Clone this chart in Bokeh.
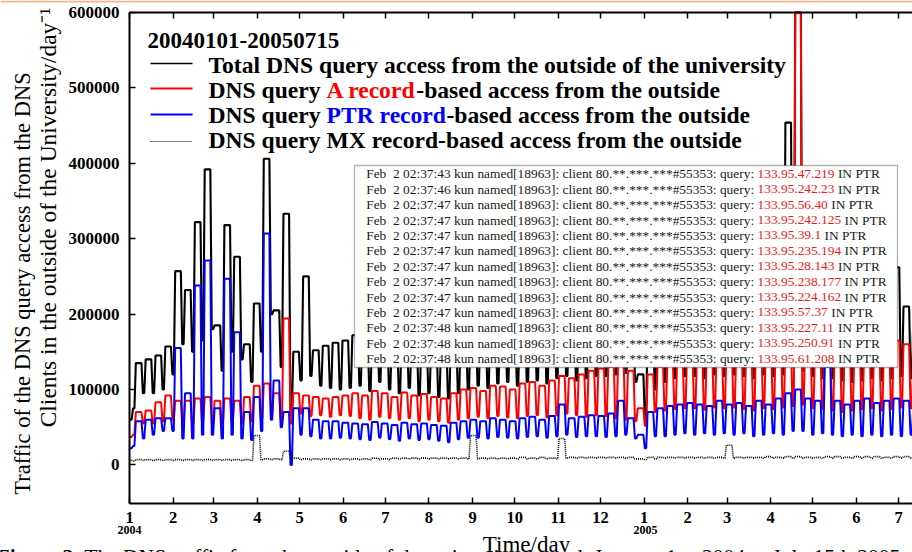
from datetime import date
from bokeh.plotting import figure
from bokeh.models import Range1d, FixedTicker, LinearAxis, Label, BoxAnnotation, Arrow
from bokeh.embed import file_html
from bokeh.resources import INLINE

# ---------------- data (weekly weekday-high / weekend-low, thousands of queries/day) -------------
total_hi_k = [60, 135, 140, 145, 157, 257, 232, 322, 392, 185,
              318, 276, 160, 214, 406, 205, 333, 150, 250, 152,
              158, 162, 165, 172, 168, 175, 170, 165, 170, 160,
              162, 158, 155, 165, 170, 175, 172, 178, 180, 176,
              182, 185, 180, 188, 200, 190, 192, 195, 200, 205,
              215, 200, 120, 200, 215, 220, 225, 230, 228, 232,
              235, 240, 238, 235, 245, 240, 250, 454, 600, 245,
              240, 280, 240, 235, 240, 245, 238, 242, 262, 210,
              200]
total_lo_k = [75, 95, 95, 100, 120, 160, 150, 165, 180, 125,
              150, 140, 110, 150, 200, 130, 70, 112, 118, 105,
              102, 100, 102, 105, 98, 110, 100, 95, 102, 92,
              95, 90, 88, 95, 100, 105, 102, 108, 110, 105,
              110, 112, 108, 115, 118, 112, 115, 118, 118, 120,
              122, 110, 60, 100, 110, 115, 118, 118, 115, 120,
              118, 120, 118, 115, 120, 118, 120, 130, 125, 118,
              115, 115, 112, 110, 112, 115, 112, 115, 118, 115,
              110]
a_hi_k = [37, 70, 72, 83, 92, 85, 85, 88, 90, 85,
          88, 85, 90, 105, 108, 95, 194, 95, 92, 90,
          88, 90, 92, 95, 92, 98, 95, 90, 96, 92,
          94, 90, 88, 95, 100, 102, 98, 105, 104, 100,
          108, 110, 105, 112, 118, 115, 120, 125, 128, 130,
          135, 125, 75, 120, 130, 135, 140, 145, 140, 150,
          148, 152, 150, 145, 155, 150, 158, 165, 600, 155,
          150, 158, 150, 148, 152, 155, 150, 155, 165, 160,
          150]
a_lo_k = [40, 55, 55, 58, 60, 58, 55, 58, 55, 55,
          58, 55, 58, 62, 65, 60, 55, 68, 65, 66,
          64, 66, 65, 62, 60, 64, 62, 60, 62, 58,
          60, 58, 56, 60, 62, 64, 62, 65, 63, 62,
          65, 66, 63, 66, 68, 66, 64, 66, 65, 62,
          60, 58, 52, 70, 72, 74, 75, 75, 73, 76,
          75, 76, 74, 72, 75, 74, 76, 78, 80, 75,
          74, 72, 70, 72, 74, 75, 72, 74, 76, 75,
          72]
ptr_hi_k = [22, 58, 60, 62, 62, 155, 95, 238, 271, 75,
            247, 176, 70, 90, 307, 112, 70, 75, 75, 60,
            58, 58, 56, 55, 54, 57, 55, 53, 56, 54,
            55, 53, 52, 56, 58, 60, 58, 62, 60, 58,
            62, 64, 60, 65, 80, 62, 64, 66, 65, 68,
            85, 62, 40, 70, 75, 78, 80, 82, 80, 78,
            85, 80, 82, 78, 85, 80, 88, 95, 100, 88,
            85, 130, 85, 80, 85, 88, 82, 85, 88, 85,
            80]
ptr_lo_k = [25, 35, 40, 45, 45, 35, 35, 40, 40, 35,
            40, 35, 33, 45, 60, 50, 0, 40, 38, 35,
            35, 36, 35, 34, 33, 36, 34, 32, 35, 33,
            34, 32, 30, 34, 36, 36, 35, 37, 36, 35,
            37, 38, 36, 38, 40, 37, 38, 38, 37, 38,
            40, 35, 22, 38, 38, 40, 42, 40, 42, 40,
            42, 40, 42, 38, 40, 42, 40, 45, 45, 40,
            42, 40, 38, 40, 38, 40, 38, 40, 38, 40,
            38]
mx_hi_k = [6, 7, 7, 7, 7, 7, 7, 7, 7, 7,
           7, 7, 7, 39, 8, 8, 18, 9, 8, 8,
           8, 8, 8, 8, 8, 9, 8, 9, 9, 9,
           9, 9, 9, 9, 9, 39, 9, 9, 9, 9,
           10, 9, 10, 9, 35, 10, 10, 10, 10, 10,
           10, 10, 8, 10, 10, 10, 10, 10, 10, 10,
           10, 26, 10, 10, 10, 11, 10, 11, 11, 10,
           10, 11, 11, 10, 11, 11, 11, 10, 11, 11,
           10]
mx_lo_k = [5, 6, 6, 6, 6, 6, 6, 6, 6, 6,
           6, 6, 6, 7, 7, 7, 8, 7, 7, 7,
           7, 7, 7, 7, 7, 7, 7, 8, 8, 8,
           8, 8, 8, 8, 8, 8, 8, 8, 8, 8,
           8, 8, 8, 8, 9, 9, 9, 9, 9, 9,
           9, 8, 7, 8, 9, 9, 9, 9, 9, 9,
           9, 9, 9, 9, 9, 9, 9, 9, 9, 9,
           9, 9, 9, 9, 9, 9, 9, 9, 9, 9,
           9]

month_starts = [(2004, m) for m in range(1, 13)] + [(2005, m) for m in range(1, 8)]
month_labels = ["1", "2", "3", "4", "5", "6", "7", "8", "9", "10", "11", "12",
                "1", "2", "3", "4", "5", "6", "7"]
y_ticks = [0, 100000, 200000, 300000, 400000, 500000, 600000]
y_tick_labels = ["0", "100000", "200000", "300000", "400000", "500000", "600000"]

legend_title = "20040101-20050715"
log_times = ["02:37:43", "02:37:46", "02:37:47", "02:37:47", "02:37:47", "02:37:47",
             "02:37:47", "02:37:47", "02:37:47", "02:37:47", "02:37:48", "02:37:48",
             "02:37:48"]
log_ips = ["133.95.47.219", "133.95.242.23", "133.95.56.40", "133.95.242.125",
           "133.95.39.1", "133.95.235.194", "133.95.28.143", "133.95.238.177",
           "133.95.224.162", "133.95.57.37", "133.95.227.11", "133.95.250.91",
           "133.95.61.208"]

# ---------------- layout geometry (canvas pixels) ----------------
W, H = 912, 552
AX_L, AX_T, AX_B = 129, 12, 503          # axis frame left / top / bottom
PX_PER_DAY = 1.406
Y_TOP, Y_BOT = 600000, -51200            # values at the top / bottom axis lines
START = date(2004, 1, 1)
month_days = [(date(y, m, 1) - START).days for (y, m) in month_starts]

units_per_px = (Y_TOP - Y_BOT) / (AX_B - AX_T)
x_lo = -AX_L / PX_PER_DAY
x_hi = (W - AX_L) / PX_PER_DAY
y_hi = Y_TOP + AX_T * units_per_px
y_lo = Y_BOT - (H - AX_B) * units_per_px


def weekly_series(hi, lo):
    xs, ys = [], []
    for w, (h, l) in enumerate(zip(hi, lo)):
        xs += [7 * w - 2.5, 7 * w + 1.5, 7 * w + 2.5, 7 * w + 3.5]
        ys += [h * 1000, h * 1000, l * 1000, l * 1000]
    xs = [max(x, 0) for x in xs]
    return xs, ys


FONT = "Liberation Serif"


def fx(px):
    return px


def fy(py):
    return H - py


def lab(x, y, text, size, color="black", style="normal", align="left",
        baseline="middle", angle=0):
    p.add_layout(Label(x=fx(x), y=fy(y), x_units="screen", y_units="screen",
                       text=text, text_font=FONT, text_font_size=size,
                       text_font_style=style, text_color=color,
                       text_align=align, text_baseline=baseline,
                       angle=angle, angle_units="deg"))


# ---------------- figure ----------------
p = figure(width=W, height=H, output_backend="svg", toolbar_location=None,
           x_range=Range1d(x_lo, x_hi), y_range=Range1d(y_lo, y_hi),
           min_border=0, x_axis_location=None, y_axis_location=None)
p.outline_line_color = None
p.grid.visible = False
p.background_fill_color = "white"
p.border_fill_color = "white"


def style_axis(ax):
    ax.axis_line_width = 2
    ax.axis_line_color = "black"
    ax.major_tick_in = 6
    ax.major_tick_out = 0
    ax.major_tick_line_width = 1.5
    ax.minor_tick_line_color = None
    ax.major_label_text_font = FONT
    ax.major_label_text_font_style = "bold"
    ax.major_label_text_color = "black"


yaxis = LinearAxis(ticker=FixedTicker(ticks=y_ticks), fixed_location=0,
                   bounds=(Y_BOT, Y_TOP),
                   major_label_overrides=dict(zip(y_ticks, y_tick_labels)))
style_axis(yaxis)
yaxis.major_label_text_font_size = "17px"
yaxis.major_label_standoff = 10
p.add_layout(yaxis, "left")

xaxis = LinearAxis(ticker=FixedTicker(ticks=month_days), fixed_location=Y_BOT,
                   bounds=(0, x_hi),
                   major_label_overrides=dict(zip(month_days, month_labels)))
style_axis(xaxis)
xaxis.major_label_text_font_size = "16.5px"
xaxis.major_label_standoff = 8
p.add_layout(xaxis, "below")

topaxis = LinearAxis(ticker=FixedTicker(ticks=month_days), fixed_location=Y_TOP,
                     bounds=(0, x_hi))
style_axis(topaxis)
topaxis.major_label_text_color = None
topaxis.major_label_text_font_size = "1px"
topaxis.major_label_standoff = 0
p.add_layout(topaxis, "above")

# ---------------- series ----------------
tx, ty = weekly_series(total_hi_k, total_lo_k)
ax_, ay = weekly_series(a_hi_k, a_lo_k)
px_, py_ = weekly_series(ptr_hi_k, ptr_lo_k)
mx, my = weekly_series(mx_hi_k, mx_lo_k)
p.line(tx, ty, line_color="black", line_width=2.1)
p.line(ax_, ay, line_color="#ff0000", line_width=2)
p.line(px_, py_, line_color="#0000ff", line_width=2)
p.line(mx, my, line_color="black", line_width=1.6, line_dash="1 1")

# ---------------- scan page edge at the top ----------------
p.add_layout(BoxAnnotation(left=0, right=W, top=H, bottom=H - 2,
                           left_units="screen", right_units="screen",
                           top_units="screen", bottom_units="screen",
                           fill_color="#f6b48a", fill_alpha=1.0, line_color=None))

# ---------------- legend ----------------
LFS = 23.6
lab(147, 40, legend_title, "23px", style="bold")
sample_rows = [(63, "black", "solid", 1.5), (88, "#ff0000", "solid", 2),
               (114, "#0000ff", "solid", 2), (141, "black", "1 1", 1.2)]
for yy, col, dash, lw in sample_rows:
    p.add_layout(Arrow(end=None, x_start=fx(150), y_start=fy(yy), x_end=fx(192),
                       y_end=fy(yy), start_units="screen", end_units="screen",
                       line_color=col, line_width=lw, line_dash=dash))
lx = 208
xa = lx + 5.0 * LFS
LSZ = "23.6px"
lab(lx, 64, "Total DNS query access from the outside of the university", LSZ, style="bold")
lab(lx, 89, "DNS query", LSZ, style="bold")
lab(xa, 89, "A record", LSZ, color="#ff0000", style="bold")
lab(xa + 3.804 * LFS, 89, "-based access from the outside", LSZ, style="bold")
lab(lx, 114, "DNS query", LSZ, style="bold")
lab(xa, 114, "PTR record", LSZ, color="#0000ff", style="bold")
lab(xa + 5.082 * LFS, 114, "-based access from the outside", LSZ, style="bold")
lab(lx, 139, "DNS query MX record-based access from the outside", LSZ, style="bold")

# ---------------- inset log box ----------------
p.add_layout(BoxAnnotation(left=fx(354), right=fx(897), top=fy(165), bottom=fy(367),
                           left_units="screen", right_units="screen",
                           top_units="screen", bottom_units="screen",
                           fill_color="white", fill_alpha=1.0,
                           line_color="black", line_width=1.3))
TFS = 13.4
for i, (t, ip) in enumerate(zip(log_times, log_ips)):
    yc = 173.3 + 15.4 * i
    lab(753.6, yc, "Feb\u00a0\u00a02 " + t + " kun named[18963]: client 80.**.***.***#55353: query:",
        "13.4px", color="#1a1a1a", align="right")
    lab(757, yc, ip, "13.4px", color="#f01818")
    ipw = (sum(c.isdigit() for c in ip) * 0.5 + ip.count(".") * 0.25 + 0.25) * TFS
    lab(757 + ipw, yc, "IN PTR", "13.4px", color="#1a1a1a")

# ---------------- axis titles & captions ----------------
lab(22, 283, "Traffic of the DNS query access from the DNS", "22.5px", angle=90, align="center")
lab(47, 217, "Clients in the outside of the University/day\u207b\u00b9", "23.5px", angle=90, align="center")
lab(129, 529, "2004", "12px", style="bold", align="center")
lab(645, 529, "2005", "12px", style="bold", align="center")
lab(526, 544, "Time/day", "23px", align="center", baseline="alphabetic")
CFS = 21.5
lab(-4, 556, "Figure 3.", "21.5px", style="bold", baseline="alphabetic")
lab(-4 + 4.083 * CFS, 556,
    "The DNS traffic from the outside of the university through January 1st, 2004 to July 15th 2005.",
    "21.5px", baseline="alphabetic")

open("out.html", "w").write(file_html(p, INLINE))
